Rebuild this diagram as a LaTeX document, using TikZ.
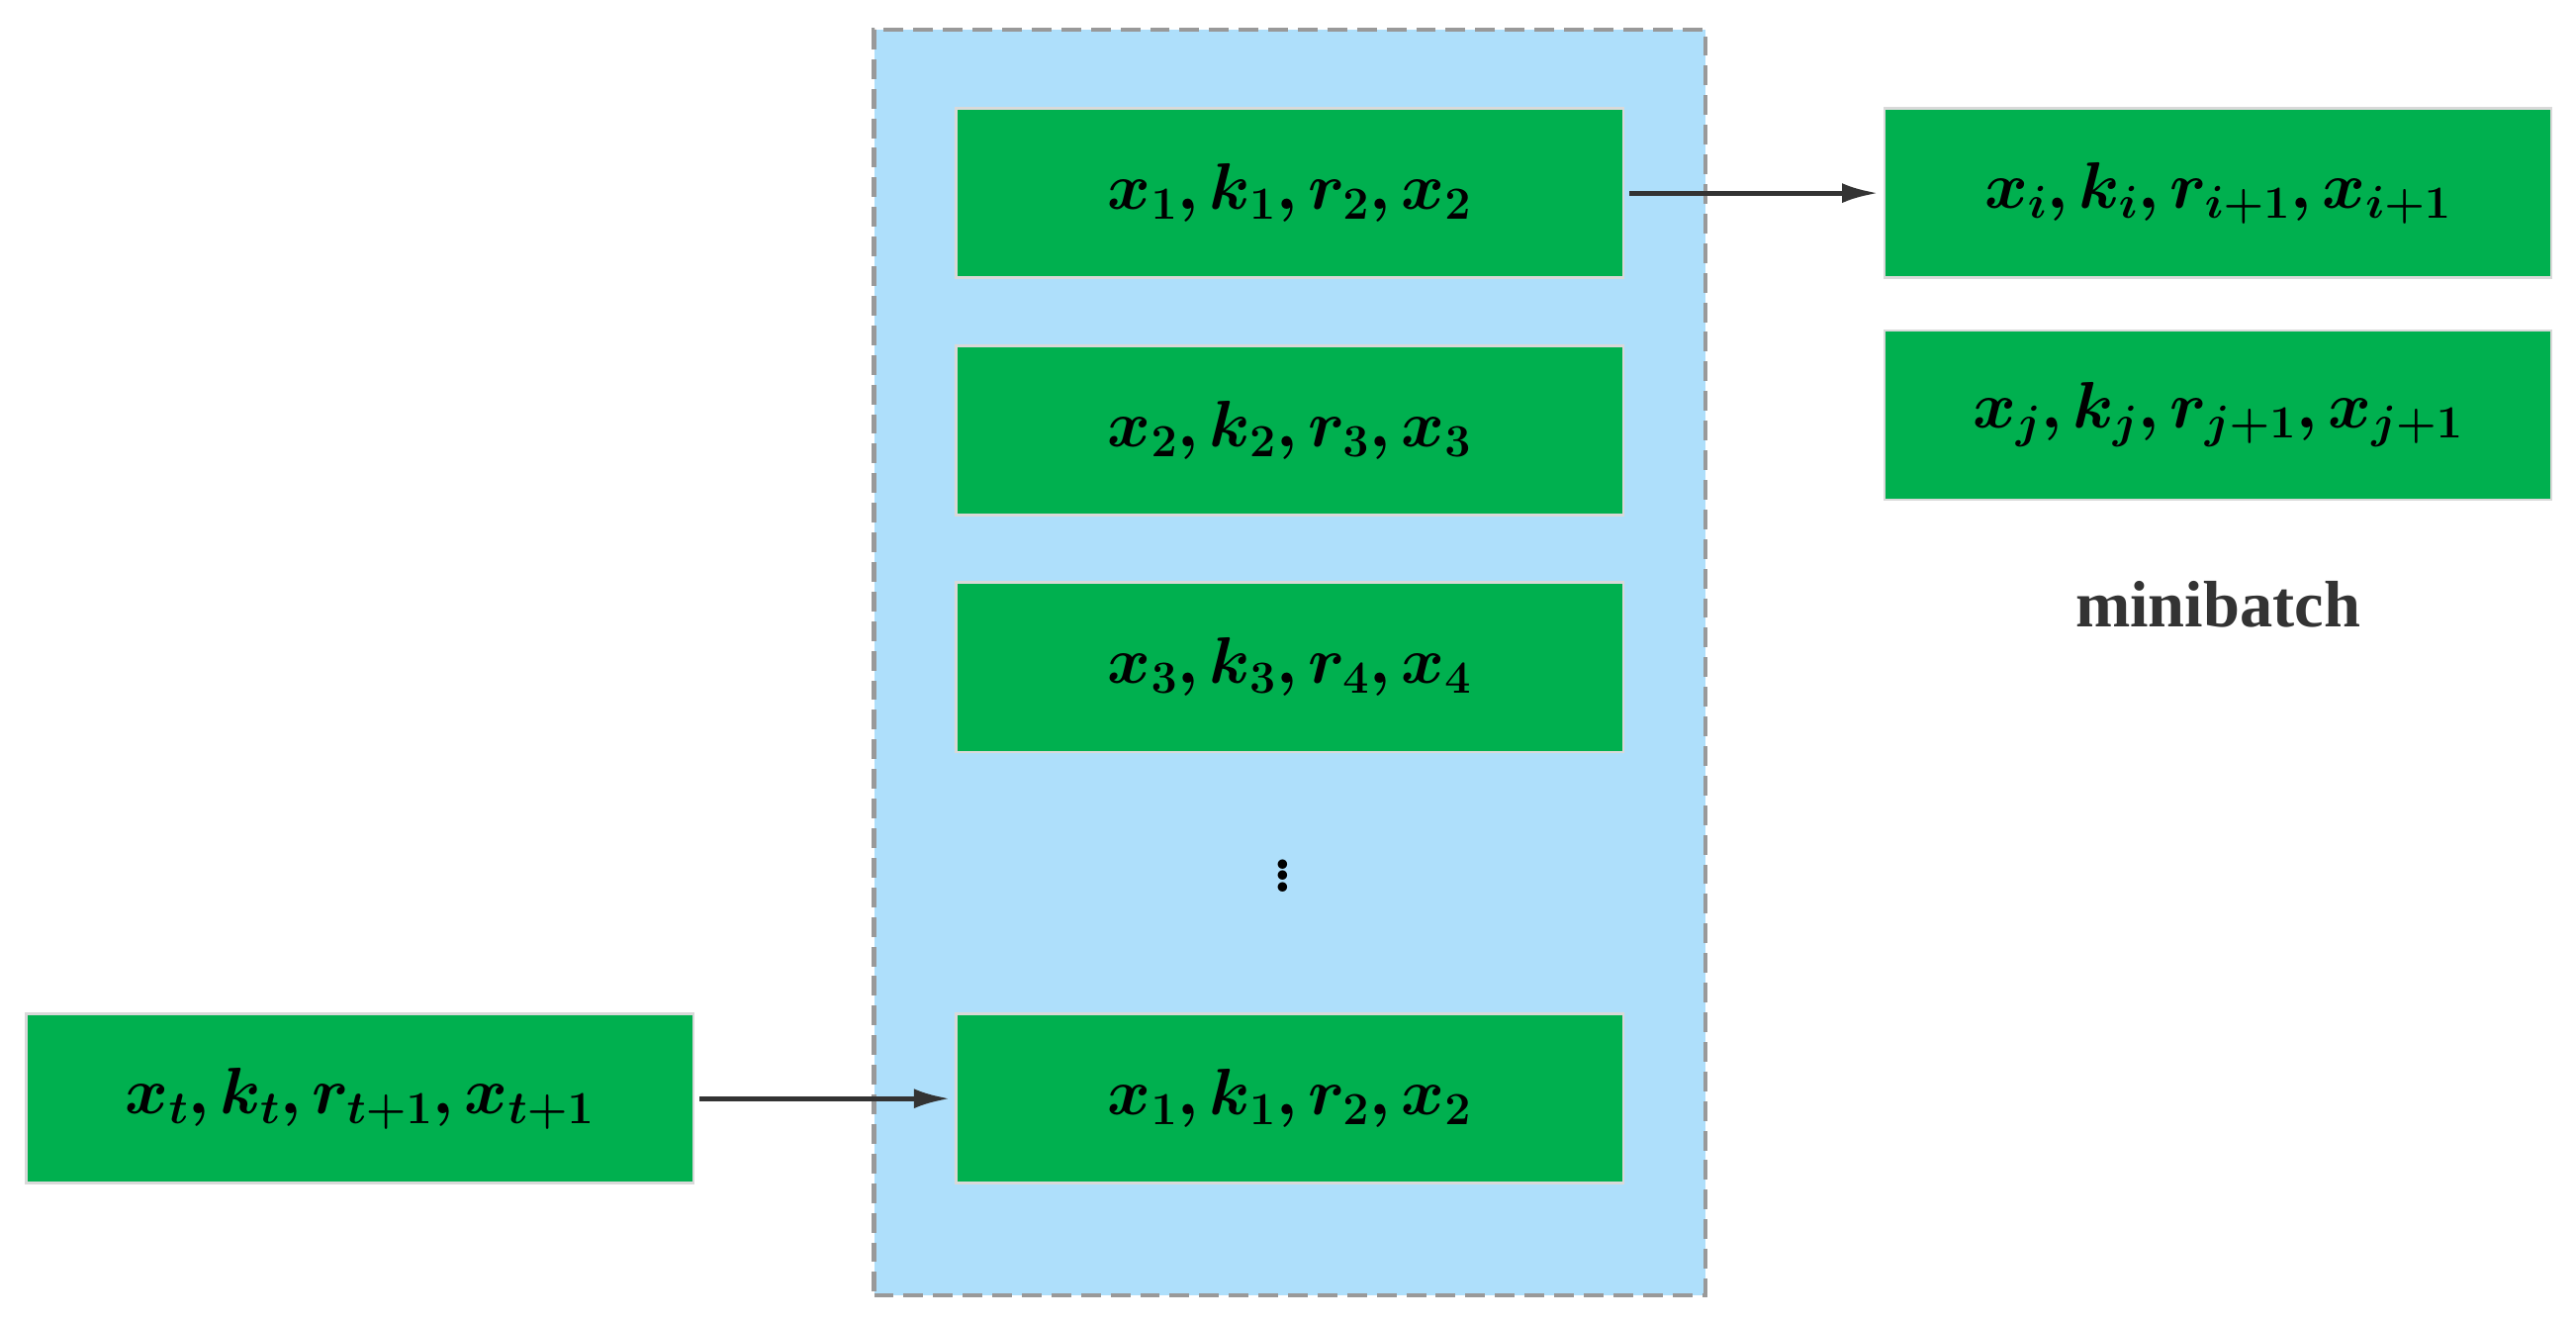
\RequirePackage{fix-cm}
\documentclass[tikz,border=0pt]{standalone}
\usepackage{amsmath,bm}
\usepackage{fontspec}
\newfontfamily\tms{Liberation Serif}
\usetikzlibrary{arrows.meta}
\definecolor{gr}{HTML}{00B04F}
\definecolor{bl}{HTML}{AEDFFB}
\definecolor{dg}{HTML}{999999}
\definecolor{ar}{HTML}{333333}
\tikzset{
 box/.style={draw=white!85!black,line width=1.5pt,fill=gr,minimum width=406pt,minimum height=103pt,inner sep=0pt,font=\fontsize{40}{48}\selectfont},
 arr/.style={draw=ar,line width=3pt,-{Latex[length=22pt,width=12pt]}}
}
\begin{document}
\begin{tikzpicture}[x=1pt,y=-1pt]
\useasboundingbox (0,0) rectangle (1568,806);
\node[draw=dg,line width=2.5pt,dash pattern=on 12pt off 6pt,fill=bl,minimum width=506pt,minimum height=770pt,inner sep=0pt] (cont) at (785,403) {};
\node[box] (b1) at (785,117.5) {$\bm{x_1,k_1,r_2,x_2}$};
\node[box] (b2) at (785,262) {$\bm{x_2,k_2,r_3,x_3}$};
\node[box] (b3) at (785,406) {$\bm{x_3,k_3,r_4,x_4}$};
\node[font=\fontsize{40}{48}\selectfont] (dots) at (781,530) {$\bm{\vdots}$};
\node[box] (b4) at (785,668.5) {$\bm{x_1,k_1,r_2,x_2}$};
\node[box] (bt) at (219,668.5) {$\bm{x_t,k_t,r_{t+1},x_{t+1}}$};
\node[box] (bi) at (1350,117.5) {$\bm{x_i,k_i,r_{i+1},x_{i+1}}$};
\node[box] (bj) at (1350,252.5) {$\bm{x_j,k_j,r_{j+1},x_{j+1}}$};
\node[font=\tms\bfseries\fontsize{40}{48}\selectfont,text=ar] (mb) at (1350,368) {minibatch};
\draw[arr] ([xshift=3pt]b1.east) -- ([xshift=-3pt]bi.west);
\draw[arr] ([xshift=3pt]bt.east) -- ([xshift=-3pt]b4.west);
\end{tikzpicture}
\end{document}
